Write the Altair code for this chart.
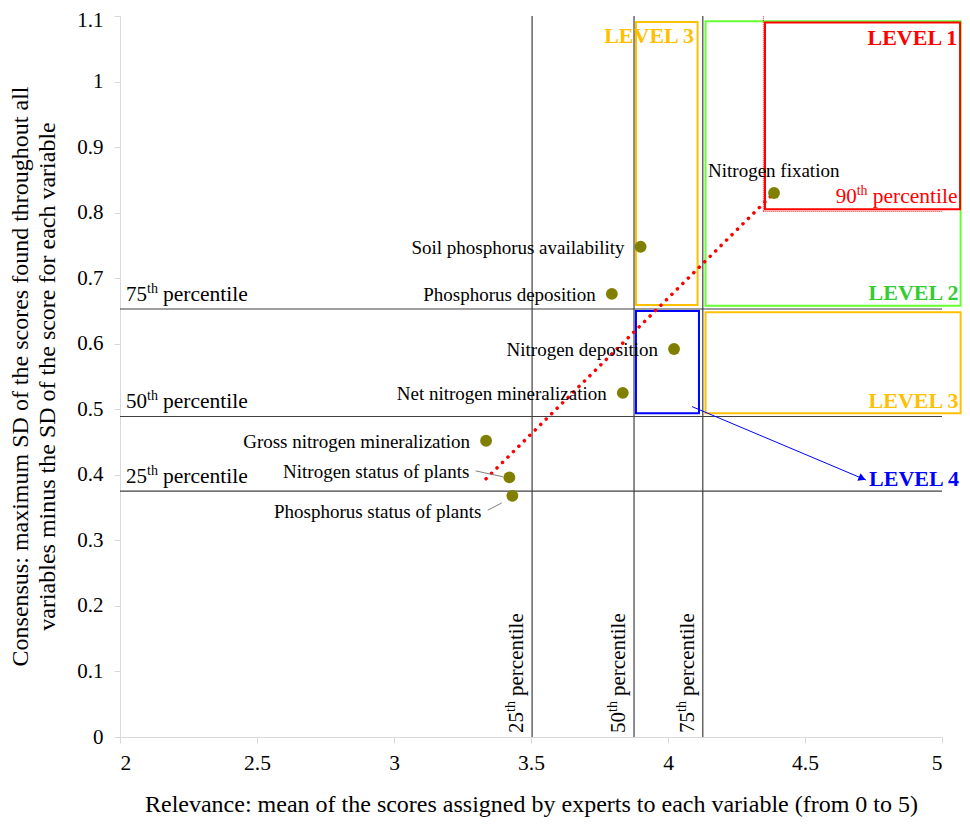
import altair as alt
import pandas as pd

# ---------------- data ----------------
variables = ["Nitrogen fixation", "Soil phosphorus availability", "Phosphorus deposition",
             "Nitrogen deposition", "Net nitrogen mineralization", "Gross nitrogen mineralization",
             "Nitrogen status of plants", "Phosphorus status of plants"]
relevance = [4.387, 3.900, 3.795, 4.022, 3.835, 3.336, 3.421, 3.432]
consensus = [0.830, 0.748, 0.676, 0.592, 0.525, 0.452, 0.396, 0.368]

pct_numbers = ["25", "50", "75"]
relevance_pct = [3.504, 3.876, 4.127]
consensus_pct = [0.375, 0.489, 0.653]

p90_number = ["90"]
relevance_p90 = [4.348]
consensus_p90 = [0.802]
p90_label_x = [4.612]

level_names = ["LEVEL 2", "LEVEL 1", "LEVEL 3", "LEVEL 3", "LEVEL 4"]
level_x1 = [4.137, 4.354, 3.883, 4.137, 3.883]
level_x2 = [5.068, 5.066, 4.108, 5.068, 4.113]
level_y1 = [0.658, 0.805, 0.659, 0.494, 0.494]
level_y2 = [1.092, 1.090, 1.091, 0.648, 0.650]
level_box_colors = ["#66ff33", "#ff0000", "#ffc000", "#ffc000", "#0000ff"]
level_text_colors = ["#33cc33", "#ff0000", "#ffc000", "#ffc000", "#0000ff"]
level_label_x = [5.060, 5.056, 4.095, 5.060, 5.062]
level_label_y = [0.677, 1.066, 1.069, 0.513, 0.394]

trend_x = [3.336, 4.387]
trend_y = [0.394, 0.830]

arrow_x = [4.088, 4.723]
arrow_y = [0.504, 0.392]
arrow_head_x = [4.709]
arrow_head_y = [0.3945]

leader_x1 = [3.298, 3.342]
leader_y1 = [0.406, 0.346]
leader_x2 = [3.398, 3.393]
leader_y2 = [0.397, 0.357]

x_ticks = [2, 2.5, 3, 3.5, 4, 4.5, 5]
y_ticks = [0, 0.1, 0.2, 0.3, 0.4, 0.5, 0.6, 0.7, 0.8, 0.9, 1, 1.1]

x_title = "Relevance: mean of the scores assigned by experts to each variable (from 0 to 5)"
y_title = ["Consensus: maximum SD of the scores found throughout all",
           "variables minus the SD of the score for each variable"]

# ---------------- tables ----------------
pts = pd.DataFrame({"variable": variables, "relevance": relevance, "consensus": consensus})
pct = pd.DataFrame({"num": pct_numbers, "rx": relevance_pct, "cy": consensus_pct,
                    "x0": 2, "x1": 5, "y0": 0, "y1": 1.1, "th": "th", "word": "percentile"})
p90 = pd.DataFrame({"num": p90_number, "rx": relevance_p90, "cy": consensus_p90,
                    "lx": p90_label_x, "x1": 5, "y1": 1.1, "th": "th", "word": "percentile"})
levels = pd.DataFrame({"name": level_names, "x1": level_x1, "x2": level_x2,
                       "y1": level_y1, "y2": level_y2, "box": level_box_colors,
                       "tcol": level_text_colors, "lx": level_label_x, "ly": level_label_y})
trend = pd.DataFrame({"x": trend_x, "y": trend_y})
arrow = pd.DataFrame({"x": [arrow_x[0]], "y": [arrow_y[0]], "x2": [arrow_x[1]], "y2": [arrow_y[1]]})
head = pd.DataFrame({"x": arrow_head_x, "y": arrow_head_y})
leaders = pd.DataFrame({"x": leader_x1, "y": leader_y1, "x2": leader_x2, "y2": leader_y2})

FONT = "Liberation Serif"
xs = alt.Scale(domain=[2, 5], nice=False, zero=False)
ys = alt.Scale(domain=[0, 1.1], nice=False, zero=False)

x_axis = alt.Axis(values=x_ticks, format="~g", title=x_title, titleX=411, titleY=74,
                  titleAlign="center", titleBaseline="alphabetic", titleFontSize=24,
                  labelFontSize=21.5, tickSize=6, labelPadding=9)
y_axis = alt.Axis(values=y_ticks, format="~g", title=y_title, titleX=-93, titleY=360,
                  titleAngle=270, titleAlign="center", titleBaseline="alphabetic",
                  titleFontSize=24, titleLineHeight=27, labelFontSize=21,
                  labelOffset={"condition": {"test": "datum.value > 1.05", "value": 4}, "value": 0},
                  tickSize=6, labelPadding=11)


def X(f):
    return alt.X(f, type="quantitative", scale=xs, axis=x_axis)


def Y(f):
    return alt.Y(f, type="quantitative", scale=ys, axis=y_axis)


boxes = alt.Chart(levels).mark_rect(fill=None, strokeWidth=2, clip=False).encode(
    x=X("x1"), x2="x2", y=Y("y1"), y2="y2",
    stroke=alt.Stroke("box:N", scale=None))

hlines = alt.Chart(pct).mark_rule(color="#404040", strokeWidth=1.2).encode(
    x=X("x0"), x2="x1", y=Y("cy"))
vlines = alt.Chart(pct).mark_rule(color="#404040", strokeWidth=1.2).encode(
    x=X("rx"), y=Y("y0"), y2="y1")

p90_v = alt.Chart(p90).mark_rule(color="#ff0000", strokeWidth=1, strokeDash=[1, 1]).encode(
    x=X("rx"), y=Y("cy"), y2="y1")
p90_h = alt.Chart(p90).mark_rule(color="#ff0000", strokeWidth=1, strokeDash=[1, 1]).encode(
    x=X("rx"), x2="x1", y=Y("cy"))

trend_line = alt.Chart(trend).mark_line(color="#ff0000", strokeWidth=3.5, strokeDash=[0.1, 7.6],
                                        strokeCap="round").encode(x=X("x"), y=Y("y"))

arrow_line = alt.Chart(arrow).mark_rule(color="#0000ff", strokeWidth=1).encode(
    x=X("x"), x2="x2", y=Y("y"), y2="y2")
arrow_head = alt.Chart(head).mark_point(shape="triangle-right", angle=23, size=70, filled=True,
                                        color="#0000ff", opacity=1).encode(x=X("x"), y=Y("y"))

leader_lines = alt.Chart(leaders).mark_rule(color="#7f7f7f", strokeWidth=1).encode(
    x=X("x"), x2="x2", y=Y("y"), y2="y2")

points = alt.Chart(pts).mark_circle(size=140, color="#808000", opacity=1).encode(
    x=X("relevance"), y=Y("consensus"))

lab_base = alt.Chart(pts).encode(x=X("relevance"), y=Y("consensus"), text="variable:N")
main_group = ["Soil phosphorus availability", "Phosphorus deposition", "Nitrogen deposition",
              "Net nitrogen mineralization", "Gross nitrogen mineralization"]
lab_main = lab_base.transform_filter(alt.FieldOneOfPredicate(field="variable", oneOf=main_group)).mark_text(
    font=FONT, fontSize=19, align="right", baseline="middle", dx=-16, dy=1, color="black")
lab_fix = lab_base.transform_filter(alt.datum.variable == "Nitrogen fixation").mark_text(
    font=FONT, fontSize=19, align="left", baseline="middle", dx=-66, dy=-22, color="black")
lab_nsp = lab_base.transform_filter(alt.datum.variable == "Nitrogen status of plants").mark_text(
    font=FONT, fontSize=19, align="right", baseline="middle", dx=-40, dy=-5, color="black")
lab_psp = lab_base.transform_filter(alt.datum.variable == "Phosphorus status of plants").mark_text(
    font=FONT, fontSize=19, align="right", baseline="middle", dx=-31, dy=16, color="black")

# horizontal percentile labels
h_num = alt.Chart(pct).mark_text(font=FONT, fontSize=21, align="left", baseline="alphabetic",
                                 dx=6, dy=-8, color="black").encode(x=X("x0"), y=Y("cy"), text="num:N")
h_th = alt.Chart(pct).mark_text(font=FONT, fontSize=14, align="left", baseline="alphabetic",
                                dx=27, dy=-16, color="black").encode(x=X("x0"), y=Y("cy"), text="th:N")
h_word = alt.Chart(pct).mark_text(font=FONT, fontSize=21.5, align="left", baseline="alphabetic",
                                  dx=43, dy=-8, color="black").encode(x=X("x0"), y=Y("cy"), text="word:N")

# vertical percentile labels
v_num = alt.Chart(pct).mark_text(font=FONT, fontSize=21, align="left", baseline="alphabetic", angle=270,
                                 dx=4, dy=-9, color="black").encode(x=X("rx"), y=Y("y0"), text="num:N")
v_th = alt.Chart(pct).mark_text(font=FONT, fontSize=14, align="left", baseline="alphabetic", angle=270,
                                dx=25, dy=-17, color="black").encode(x=X("rx"), y=Y("y0"), text="th:N")
v_word = alt.Chart(pct).mark_text(font=FONT, fontSize=21, align="left", baseline="alphabetic", angle=270,
                                  dx=41, dy=-9, color="black").encode(x=X("rx"), y=Y("y0"), text="word:N")

# 90th percentile label
p_num = alt.Chart(p90).mark_text(font=FONT, fontSize=21, align="left", baseline="alphabetic",
                                 dy=-8, color="#ff0000").encode(x=X("lx"), y=Y("cy"), text="num:N")
p_th = alt.Chart(p90).mark_text(font=FONT, fontSize=14, align="left", baseline="alphabetic",
                                dx=21, dy=-16, color="#ff0000").encode(x=X("lx"), y=Y("cy"), text="th:N")
p_word = alt.Chart(p90).mark_text(font=FONT, fontSize=21.5, align="left", baseline="alphabetic",
                                  dx=37, dy=-8, color="#ff0000").encode(x=X("lx"), y=Y("cy"), text="word:N")

level_text = alt.Chart(levels).mark_text(font=FONT, fontSize=22, fontWeight="bold", align="right",
                                         baseline="middle").encode(
    x=X("lx"), y=Y("ly"), text="name:N", color=alt.Color("tcol:N", scale=None))

chart = alt.layer(
    boxes, hlines, vlines, p90_v, p90_h, trend_line, arrow_line, arrow_head, leader_lines,
    points, lab_main, lab_fix, lab_nsp, lab_psp,
    h_num, h_th, h_word, v_num, v_th, v_word, p_num, p_th, p_word, level_text
).properties(
    width=822, height=721,
    autosize=alt.AutoSizeParams(type="none"),
    padding={"left": 112, "top": 8, "right": 20, "bottom": 80},
    background="white"
).configure_view(stroke=None).configure_axis(
    grid=False, domainColor="#d9d9d9", tickColor="#d9d9d9", domainWidth=1,
    labelFont=FONT, labelColor="black",
    titleFont=FONT, titleFontWeight="normal", titleColor="black"
)

chart.save("out.html", embed_options={"renderer": "svg", "actions": False})
